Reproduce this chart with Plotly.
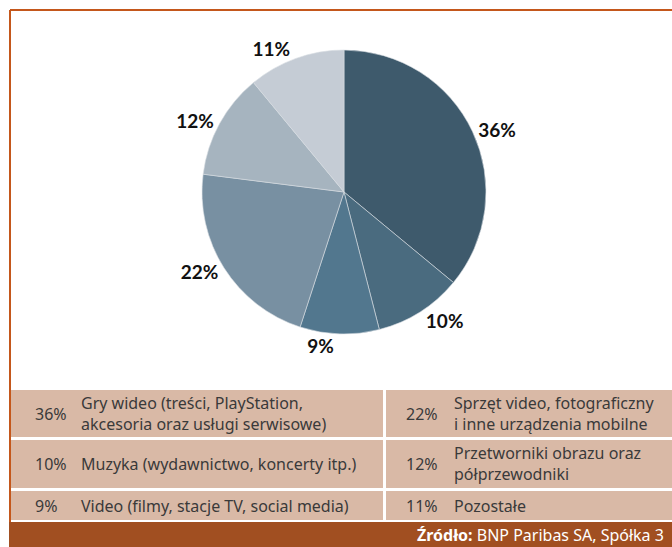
import plotly.graph_objects as go

W, H = 672, 547

# pie data (clockwise from 12 o'clock)
shares = [36, 10, 9, 22, 12, 11]
slice_colors = ["#3E5A6C", "#4A6B7F", "#52778E", "#7890A2", "#A6B4BF", "#C5CCD5"]

# legend table
left_pct = ["36%", "10%", "9%"]
left_labels = [
    "Gry wideo (treści, PlayStation,<br>akcesoria oraz usługi serwisowe)",
    "Muzyka (wydawnictwo, koncerty itp.)",
    "Video (filmy, stacje TV, social media)",
]
right_pct = ["22%", "12%", "11%"]
right_labels = [
    "Sprzęt video, fotograficzny<br>i inne urządzenia mobilne",
    "Przetworniki obrazu oraz<br>półprzewodniki",
    "Pozostałe",
]
source_text = "<b>Źródło:</b> BNP Paribas SA, Spółka 3"

ORANGE = "#C4571B"
CELL = "#D9B9A6"
FOOT = "#A14F21"
TXT = "#3A3A3A"


def px(x):
    return x / W


def py(y):
    return 1 - y / H


fig = go.Figure()
fig.add_trace(
    go.Pie(
        values=shares,
        marker=dict(colors=slice_colors, line=dict(color="#D8DEE3", width=0.6)),
        sort=False,
        direction="clockwise",
        rotation=0,
        texttemplate="%{value}%",
        textposition="outside",
        outsidetextfont=dict(family="Lato", size=19, color="#111111", weight="bold"),
        hoverinfo="skip",
        domain=dict(x=[px(202), px(486)], y=[py(334), py(50)]),
        showlegend=False,
    )
)

shapes = []
annotations = []

# frame
shapes.append(dict(type="line", xref="paper", yref="paper", x0=px(10), x1=1, y0=py(10), y1=py(10),
                   line=dict(color=ORANGE, width=2)))
shapes.append(dict(type="line", xref="paper", yref="paper", x0=px(10), x1=px(10), y0=py(10), y1=0,
                   line=dict(color=ORANGE, width=2)))

# table rows
rows = [(390, 437), (440, 488), (491, 520)]
for i, (y0, y1) in enumerate(rows):
    for x0, x1 in [(11, 383), (386, 672)]:
        shapes.append(dict(type="rect", xref="paper", yref="paper", x0=px(x0), x1=px(x1),
                           y0=py(y1), y1=py(y0), fillcolor=CELL, line=dict(width=0), layer="below"))
    yc = py((y0 + y1) / 2)
    font = dict(family="Noto Sans", size=16, color=TXT)
    annotations.append(dict(xref="paper", yref="paper", x=px(33), y=yc, text=left_pct[i],
                            showarrow=False, xanchor="left", yanchor="middle", font=font))
    annotations.append(dict(xref="paper", yref="paper", x=px(79), y=yc, text=left_labels[i],
                            showarrow=False, xanchor="left", yanchor="middle", align="left", font=font))
    annotations.append(dict(xref="paper", yref="paper", x=px(404), y=yc, text=right_pct[i],
                            showarrow=False, xanchor="left", yanchor="middle", font=font))
    annotations.append(dict(xref="paper", yref="paper", x=px(452), y=yc, text=right_labels[i],
                            showarrow=False, xanchor="left", yanchor="middle", align="left", font=font))

# footer
shapes.append(dict(type="rect", xref="paper", yref="paper", x0=px(9), x1=1, y0=0, y1=py(522),
                   fillcolor=FOOT, line=dict(width=0)))
annotations.append(dict(xref="paper", yref="paper", x=px(666), y=py(535), text=source_text,
                        showarrow=False, xanchor="right", yanchor="middle",
                        font=dict(family="Noto Sans", size=16, color="white")))

fig.update_layout(
    width=W,
    height=H,
    margin=dict(l=0, r=0, t=0, b=0),
    paper_bgcolor="white",
    plot_bgcolor="white",
    shapes=shapes,
    annotations=annotations,
)

fig.write_html(
    "out.html",
    config={"displayModeBar": False},
    post_script="document.body.style.margin='0';document.body.style.overflow='hidden';",
)
